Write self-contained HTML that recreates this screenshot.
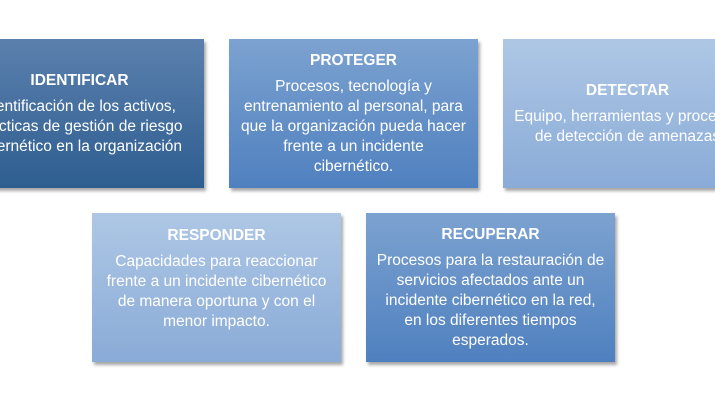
<!DOCTYPE html>
<html><head><meta charset="utf-8"><style>
html,body{margin:0;padding:0;background:#fff;width:715px;height:400px;overflow:hidden;position:relative;font-family:"Liberation Sans",sans-serif;}
.b{position:absolute;width:249px;height:149px;box-shadow:2px 3px 3px rgba(0,0,0,0.35);display:flex;flex-direction:column;justify-content:center;align-items:center;color:#fff;text-align:center;font-size:15.5px;line-height:20px;white-space:nowrap;}
.b b{display:block;margin-bottom:6px;font-size:15.5px;}
.d{background:linear-gradient(#5b80ae,#2e5e90);}
.m{background:linear-gradient(#7ca2d0,#4f80bf);}
.l{background:linear-gradient(#aec7e5,#8aabd7);}
</style></head><body>
<div class="b d" style="left:-45px;top:39px"><b>IDENTIFICAR</b>Identificación de los activos,<br>prácticas de gestión de riesgo<br>cibernético en la organización</div>
<div class="b m" style="left:229px;top:39px"><b>PROTEGER</b>Procesos, tecnología y<br>entrenamiento al personal, para<br>que la organización pueda hacer<br>frente a un incidente<br>cibernético.</div>
<div class="b l" style="left:503px;top:39px"><b>DETECTAR</b>Equipo, herramientas y procesos<br>de detección de amenazas</div>
<div class="b l" style="left:92px;top:213px;justify-content:flex-start;box-sizing:border-box;padding-top:13px"><b>RESPONDER</b>Capacidades para reaccionar<br>frente a un incidente cibernético<br>de manera oportuna y con el<br>menor impacto.</div>
<div class="b m" style="left:366px;top:213px"><b>RECUPERAR</b>Procesos para la restauración de<br>servicios afectados ante un<br>incidente cibernético en la red,<br>en los diferentes tiempos<br>esperados.</div>
</body></html>
